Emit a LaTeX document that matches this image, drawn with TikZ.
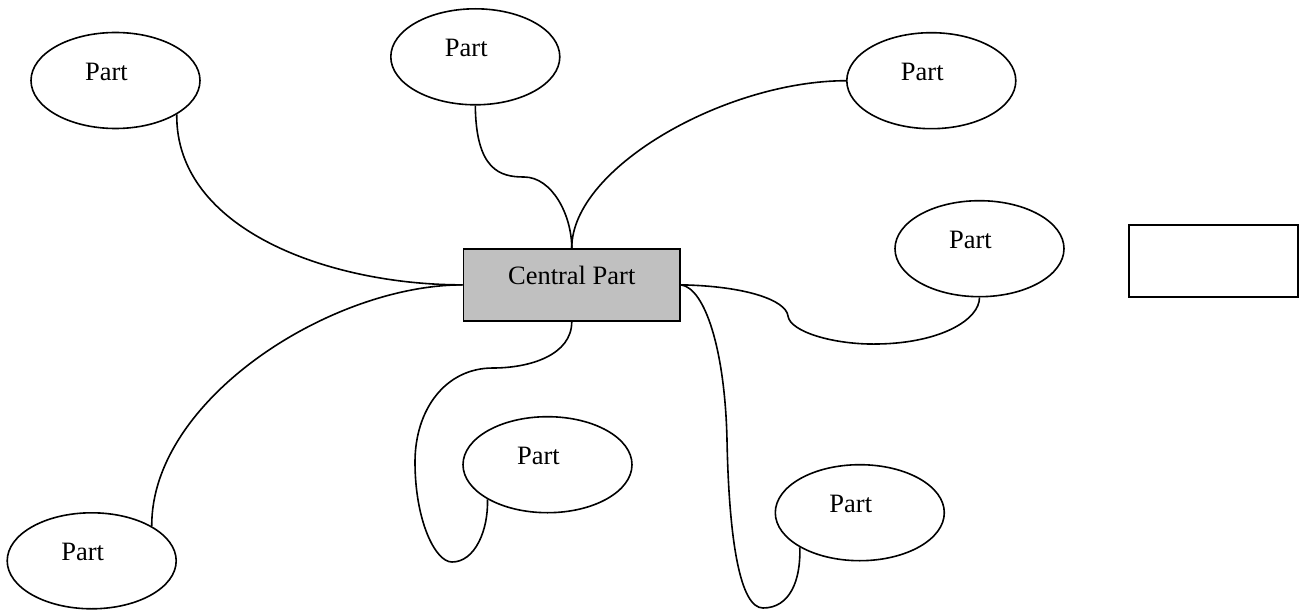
\documentclass[tikz,border=0pt]{standalone}
\usepackage{fontspec}
\setmainfont{Liberation Serif}
\usetikzlibrary{shapes.geometric}
\definecolor{boxgray}{RGB}{192,192,192}
\tikzset{
  partnode/.style={ellipse, draw=black, line width=1.6pt, minimum width=169pt, minimum height=96pt, inner sep=0pt},
  partlabel/.style={label={[xshift=-9pt,yshift=8.7pt,inner sep=0pt]center:Part}},
  centralbox/.style={rectangle, draw=black, line width=1.8pt, fill=boxgray, minimum width=216.5pt, minimum height=72pt, inner sep=0pt},
  emptybox/.style={rectangle, draw=black, line width=1.8pt, minimum width=168.7pt, minimum height=72.3pt, inner sep=0pt},
  conn/.style={draw=black, line width=1.6pt},
}
\begin{document}
\begin{tikzpicture}[x=1pt,y=-1pt,font=\fontsize{26.5}{30}\selectfont]
\useasboundingbox (0,0) rectangle (1304,615);
\node[centralbox, label={[yshift=9pt,inner sep=0pt]center:Central Part}] (cp) at (571.75,284.85) {};
\node[emptybox] (eb) at (1213.65,261.15) {};
\node[partnode, partlabel] (A) at (115.5,80.5) {};
\node[partnode, partlabel] (B) at (475.3,56.8) {};
\node[partnode, partlabel] (C) at (931.3,80.7) {};
\node[partnode, partlabel] (D) at (979.5,248.7) {};
\node[partnode, partlabel] (E) at (91.7,560.8) {};
\node[partnode, partlabel] (F) at (547.5,464.7) {};
\node[partnode, partlabel] (G) at (859.8,512.7) {};
% A -> central left
\path[conn] (A.-29) .. controls (175.5,230) and (330,285) .. (cp.west);
% B -> central top
\coordinate (bmid) at (524,177);
\path[conn] (B.south) .. controls (476,170) and (500,177) .. (bmid)
  .. controls (552,177) and (571.75,215) .. (cp.north);
% C -> central top
\path[conn] (C.west) .. controls (725,81) and (571.75,168) .. (cp.north);
% central right -> D
\coordinate (dk) at (788,316);
\coordinate (dlow) at (878,344);
\path[conn] (cp.east) .. controls (745,286) and (786,300) .. (dk)
  .. controls (790,332) and (835,345) .. (dlow)
  .. controls (940,343) and (979.5,320) .. (D.south);
% central right -> G
\coordinate (gmid) at (727,440);
\coordinate (glow) at (763,608);
\path[conn] (cp.east) .. controls (705,288) and (725,350) .. (gmid)
  .. controls (729,540) and (740,608) .. (glow)
  .. controls (790,608) and (801,580) .. (G.210);
% central bottom -> F
\coordinate (fmid) at (493,368);
\coordinate (fleft) at (415,462);
\coordinate (flow) at (452,562);
\path[conn] (cp.south) .. controls (571.75,355) and (530,368) .. (fmid)
  .. controls (445,368) and (415,410) .. (fleft)
  .. controls (415,520) and (435,562) .. (flow)
  .. controls (475,562) and (488.5,530) .. (F.210);
% central left -> E
\path[conn] (cp.west) .. controls (330,285) and (151,400) .. (E.30);
\end{tikzpicture}
\end{document}
